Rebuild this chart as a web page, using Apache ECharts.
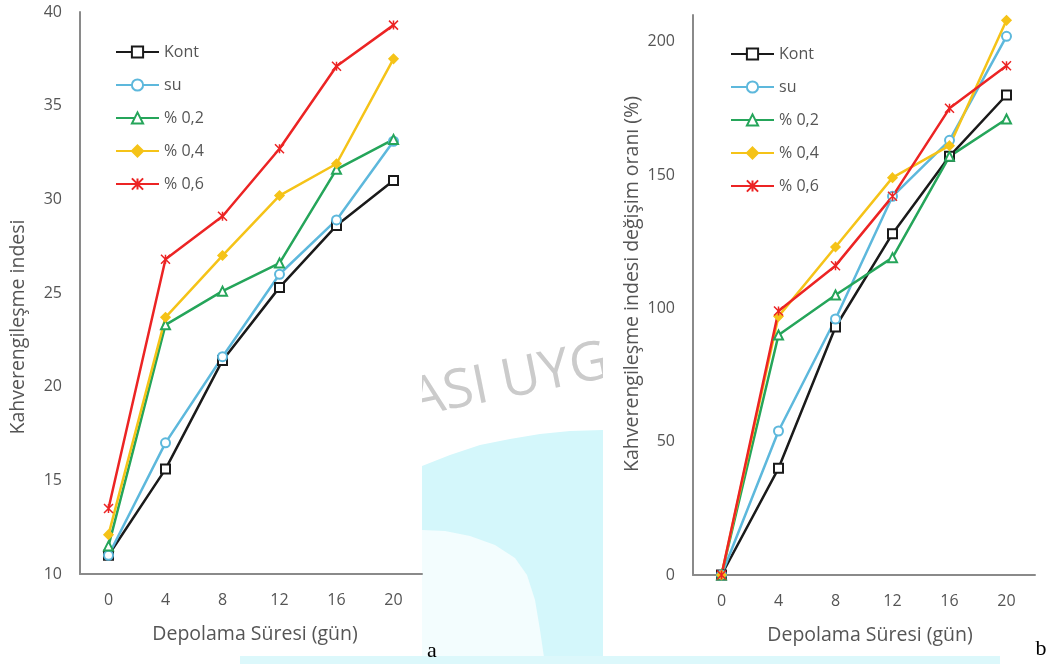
<!DOCTYPE html>
<html>
<head>
<meta charset="utf-8">
<script src="https://cdn.jsdelivr.net/npm/echarts@6/dist/echarts.min.js"></script>
<style>html,body{margin:0;padding:0;background:#fff}#c{width:1049px;height:664px}</style>
</head>
<body>
<div id="c"></div>
<script>
const days = ['0','4','8','12','16','20'];
const seriesNames = ['Kont','su','% 0,2','% 0,4','% 0,6'];
// Chart a: Kahverengileşme indesi
const a_kont = [11.0, 15.6, 21.4, 25.3, 28.6, 31.0];
const a_su   = [11.0, 17.0, 21.6, 26.0, 28.9, 33.1];
const a_02   = [11.5, 23.3, 25.1, 26.6, 31.6, 33.2];
const a_04   = [12.1, 23.7, 27.0, 30.2, 31.9, 37.5];
const a_06   = [13.5, 26.8, 29.1, 32.7, 37.1, 39.3];
// Chart b: Kahverengileşme indesi değişim oranı (%)
const b_kont = [0, 40, 93, 128, 157, 180];
const b_su   = [0, 54, 96, 142, 163, 202];
const b_02   = [0, 90, 105, 119, 157, 171];
const b_04   = [0, 97, 123, 149, 161, 208];
const b_06   = [0, 99, 116, 142, 175, 191];

const colors = ['#1a1a1a','#5db8dc','#25a55a','#f5c318','#ec2424'];
const starPath = 'path://M0,0L10,10M10,0L0,10M5,0L5,10';
const symbols = ['emptyRect','emptyCircle','emptyTriangle','diamond', starPath];
const sizes = [9,9,9,9,9];
const FONT = 'Open Sans';
const gray = '#555555';

function mkSeries(dataArr, idx) {
  return dataArr.map((d, i) => ({
    name: seriesNames[i], type: 'line', xAxisIndex: idx, yAxisIndex: idx,
    data: d, symbol: symbols[i], symbolSize: sizes[i], z: 4,
    lineStyle: {color: colors[i], width: 2.5},
    itemStyle: {color: colors[i], borderColor: colors[i], borderWidth: 1.5},
    emphasis: {disabled: true}
  }));
}

function axisX(gi) {
  return {type: 'category', gridIndex: gi, data: days, boundaryGap: true, z: 3,
    axisLine: {lineStyle: {color: '#8a8a8a', width: 2}}, axisTick: {show: false},
    axisLabel: {color: gray, fontFamily: FONT, fontSize: 16, margin: 18}};
}
function axisY(gi, min, max, interval) {
  return {type: 'value', gridIndex: gi, min: min, max: max, interval: interval, z: 3,
    axisLine: {show: true, lineStyle: {color: '#8a8a8a', width: 2}}, axisTick: {show: false},
    splitLine: {show: false},
    axisLabel: {color: gray, fontFamily: FONT, fontSize: 16, margin: 18, showMaxLabel: gi === 0}};
}
function legendFor(left, top) {
  return {orient: 'vertical', left: left, top: top, padding: 0, itemWidth: 43, itemHeight: 14, itemGap: 17, z: 5,
    textStyle: {color: gray, fontFamily: FONT, fontSize: 16}, data: seriesNames};
}

const chart = echarts.init(document.getElementById('c'), null, {renderer: 'canvas'});
chart.setOption({
  backgroundColor: '#fff',
  animation: false,
  grid: [
    {left: 80, top: 12, width: 342, height: 562},
    {left: 693, top: 15, width: 342, height: 560}
  ],
  xAxis: [axisX(0), axisX(1)],
  yAxis: [axisY(0, 10, 40, 5), axisY(1, 0, 210, 50)],
  legend: [legendFor(115, 44), legendFor(730, 46)],
  series: [].concat(
    mkSeries([a_kont, a_su, a_02, a_04, a_06], 0),
    mkSeries([b_kont, b_su, b_02, b_04, b_06], 1)
  ),
  graphic: [
    {type: 'polygon', z: 0, silent: true, shape: {points: [[422,466],[450,455],[480,445],[510,439],[540,434],[570,431],[603,430],[603,664],[422,664]]}, style: {fill: '#d4f7fb'}},
    {type: 'polygon', z: 0, silent: true, shape: {points: [[422,530],[445,531],[470,536],[495,545],[515,558],[527,575],[535,600],[540,630],[545,664],[422,664]]}, style: {fill: '#f3fdfe'}},
    {type: 'rect', z: 0, silent: true, shape: {x: 240, y: 656, width: 760, height: 8}, style: {fill: '#dcf8fb'}},
    {type: 'text', z: 0, silent: true, x: 416, y: 428, rotation: 0.2, style: {text: 'ASI UYG', fill: '#cbcbcb', font: '54px "Open Sans"', verticalAlign: 'bottom'}},
    {type: 'rect', z: 1, silent: true, shape: {x: 0, y: 0, width: 422, height: 656}, style: {fill: '#fff'}},
    {type: 'rect', z: 1, silent: true, shape: {x: 603, y: 0, width: 446, height: 656}, style: {fill: '#fff'}},
    {type: 'text', z: 6, silent: true, x: 18, y: 327, rotation: Math.PI/2, style: {text: 'Kahverengileşme indesi', fill: gray, font: '19.5px "Open Sans"', align: 'center', verticalAlign: 'middle'}},
    {type: 'text', z: 6, silent: true, x: 632, y: 284, rotation: Math.PI/2, style: {text: 'Kahverengileşme indesi değişim oranı (%)', fill: gray, font: '19.5px "Open Sans"', align: 'center', verticalAlign: 'middle'}},
    {type: 'text', z: 6, silent: true, x: 255, y: 634, style: {text: 'Depolama Süresi (gün)', fill: gray, font: '19.5px "Open Sans"', align: 'center', verticalAlign: 'middle'}},
    {type: 'text', z: 6, silent: true, x: 870, y: 635, style: {text: 'Depolama Süresi (gün)', fill: gray, font: '19.5px "Open Sans"', align: 'center', verticalAlign: 'middle'}},
    {type: 'text', z: 6, silent: true, x: 432, y: 651, style: {text: 'a', fill: '#000', font: '22px "Liberation Serif"', align: 'center', verticalAlign: 'middle'}},
    {type: 'text', z: 6, silent: true, x: 1041, y: 649, style: {text: 'b', fill: '#000', font: '22px "Liberation Serif"', align: 'center', verticalAlign: 'middle'}}
  ]
});
</script>
</body>
</html>
